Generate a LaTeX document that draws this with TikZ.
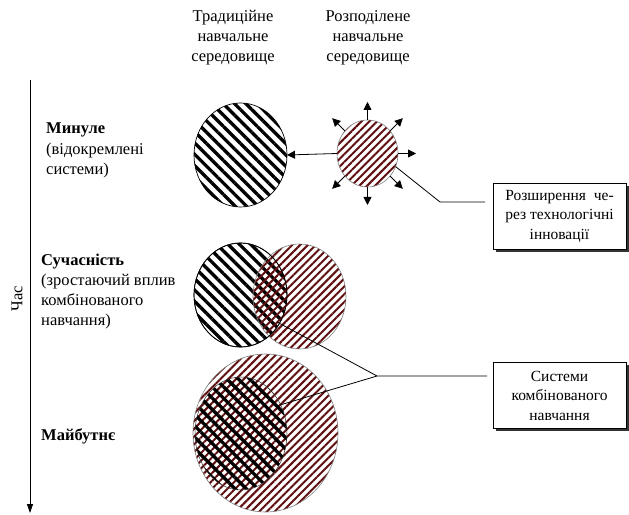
\documentclass[tikz,border=0pt]{standalone}
\usepackage{fontspec}
\setmainfont{Liberation Serif}
\usetikzlibrary{patterns.meta,shapes.geometric,arrows.meta,shadows}
\definecolor{hred}{RGB}{95,15,15}
\newlength{\rlw}
\begin{document}
\begin{tikzpicture}[x=1pt,y=1pt,
  txt/.style={font=\fontsize{16.5}{20.3}\selectfont, inner sep=0pt},
  blackhatch/.style={ellipse, inner sep=0pt, outer sep=0pt, draw=black, line width=0.7pt,
    pattern={Lines[angle=-45,distance=8pt,line width=3.3pt]}, pattern color=black},
  redhatch/.style={ellipse, inner sep=0pt, outer sep=0pt, draw=gray, line width=0.6pt,
    pattern={Lines[angle=45,distance=5.5pt,line width=2pt]}, pattern color=hred},
  arr/.style={-{Triangle[length=8pt,width=8pt]}, line width=0.8pt},
  timearr/.style={-{Triangle[length=9pt,width=6pt]}, line width=0.8pt},
  conn/.style={line width=0.8pt},
  infobox/.style={draw=black, line width=0.8pt, fill=white, minimum width=133pt, minimum height=66pt,
    align=center, font=\fontsize{15.5}{19.5}\selectfont, inner sep=0pt,
    drop shadow={shadow xshift=3pt, shadow yshift=-3pt, fill=black!80, opacity=1}}
]
\useasboundingbox (0,0) rectangle (629,514);

% time axis
\coordinate (tstart) at (30,434);
\coordinate (tend) at (30,1);
\draw[timearr] (tstart) -- (tend);
\node[txt, rotate=90] (time) at (17,215) {Час};

% left labels (anchor = baseline of last line)
\node[txt, anchor=base west, align=left] (past) at (46,339.4) {\textbf{Минуле}\\(відокремлені\\системи)};
\node[txt, anchor=base west, align=left] (present) at (41,188) {\textbf{Сучасність}\\(зростаючий вплив\\комбінованого\\навчання)};
\node[txt, anchor=base west, align=left] (future) at (41,73) {\textbf{Майбутнє}};

% headers
\node[txt, anchor=base, align=center] (hTrad) at (233,452) {Традиційне\\навчальне\\середовище};
\node[txt, anchor=base, align=center] (hDist) at (368,452) {Розподілене\\навчальне\\середовище};

% past
\node[blackhatch, minimum width=93pt, minimum height=104pt] (p1) at (240.5,359) {};
\node[redhatch, minimum width=61pt, minimum height=67pt] (p2) at (367.5,360.5) {};
\draw[arr] (p2.west) -- (p1.east);
\foreach \a in {90,45,0,-45,-90,-135,135}
  \draw[arr] (p2.\a) -- ++(\a:18);

% present
\node[blackhatch, minimum width=93pt, minimum height=104pt] (c1) at (240.5,219) {};
\node[redhatch, minimum width=93pt, minimum height=105pt] (c2) at (299.5,217.5) {};
\draw[line width=0.7pt] (c1.center) ellipse [x radius=46.5, y radius=52];

% future
\node[redhatch, minimum width=145pt, minimum height=158pt] (f1) at (265.5,81) {};
\node[blackhatch, minimum width=92pt, minimum height=113pt, draw=black!80, line width=0.5pt] (f2) at (241,80.5) {};

% boxes
\node[infobox] (b1) at (559.5,298) {\settowidth{\rlw}{рез технологічні}\makebox[\rlw][s]{Розширення че-}\\рез технологічні\\інновації};
\node[infobox] (b2) at (559.5,118.5) {Системи\\комбінованого\\навчання};

% connectors
\coordinate (k1) at (440,312);
\coordinate (e1) at (485,312);
\draw[conn] (p2.-25) -- (k1) -- (e1);

\coordinate (j1) at (277,192);
\coordinate (j2) at (280,109);
\coordinate (k2) at (377,138);
\coordinate (e2) at (487,138);
\draw[conn] (j1) -- (k2) -- (e2);
\draw[conn] (j2) -- (k2);
\end{tikzpicture}
\end{document}
